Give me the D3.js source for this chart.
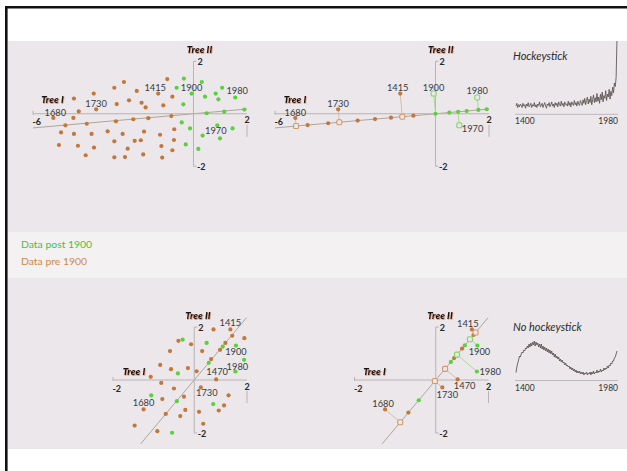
<!DOCTYPE html>
<html>
<head>
<meta charset="utf-8">
<script src="https://cdn.jsdelivr.net/npm/d3@7"></script>
<style>
  html, body { margin: 0; padding: 0; background: #fff; }
  svg { display: block; font-family: Lato, "DejaVu Sans", sans-serif; }
</style>
</head>
<body>
<svg id="chart" width="627" height="471"></svg>
<script>
// ---- Scores on the two tree axes, early period data set (Tree I, Tree II) ----
const topPre = [
  [-2.60, 1.21], [-2.96, 0.99], [-0.98, 1.32], [-2.12, 0.87], [-0.79, 0.65],
  [-3.73, 0.77], [-4.47, 0.58], [-2.41, 0.51], [-2.87, 0.37], [-1.94, 0.42],
  [-1.79, 0.24], [-1.13, 0.32], [-4.29, 0.09], [-4.49, -0.16], [-4.79, -0.44],
  [-3.99, -0.38], [-2.90, -0.29], [-2.25, -0.21], [-1.69, -0.17], [-0.83, -0.09],
  [-4.95, -0.71], [-4.47, -0.77], [-3.81, -0.77], [-3.21, -0.67], [-2.65, -0.77],
  [-1.85, -0.68], [-1.25, -0.80], [-0.72, -0.59], [-5.03, -1.19], [-4.32, -1.22],
  [-3.72, -1.29], [-2.96, -1.05], [-2.20, -1.03], [-1.97, -1.01], [-2.46, -1.33],
  [-1.20, -1.23], [-0.73, -1.00], [-0.79, -1.39], [-4.03, -1.58], [-2.96, -1.66],
  [-2.56, -1.65], [-1.88, -1.55], [-1.17, -1.67]
];
const topPost = [
  [-0.36, 1.34], [0.31, 1.21], [-0.63, 0.99], [0.83, 0.77], [1.07, 0.99],
  [0.43, 0.65], [0.93, 0.55], [-0.38, 0.36], [1.15, 0.08], [0.49, 0.02],
  [1.90, 0.16], [-0.44, -0.33], [-0.13, -0.56], [1.46, -0.56], [0.34, -0.83],
  [0.99, -0.94], [-0.29, -1.17], [0.18, -1.34]
];
const topMarked = [
  { year: "1680", x: -5.24, y: -0.16, group: "pre" },
  { year: "1730", x: -3.64, y: 0.17, group: "pre" },
  { year: "1415", x: -1.32, y: 0.77, group: "pre" },
  { year: "1900", x: -0.07, y: 0.77, group: "post" },
  { year: "1980", x: 1.56, y: 0.62, group: "post" },
  { year: "1970", x: 0.89, y: -0.44, group: "post" }
];
// first component: slope in the Tree I / Tree II plane, drawn between two Tree I values
const topComponent = { slope: 0.09, from: -6, to: 2 };
// further scores along the component
const topAlongPre = [-4.80, -4.03, -2.92, -2.27, -1.67, -0.83];
const topAlongPost = [0.52, 1.17, 1.92];

// ---- Scores, second data set ----
const bottomPre = [
  [0.73, 1.91], [1.44, 1.67], [1.90, 1.58], [1.18, 1.40], [-0.60, 1.48],
  [-0.12, 1.35], [0.98, 1.14], [-0.92, 1.09], [0.30, 1.09], [0.64, 0.79],
  [-1.29, 0.57], [-0.88, 0.41], [-0.24, 0.45], [0.09, 0.33], [-1.65, 0.12],
  [-1.25, -0.11], [-0.77, -0.32], [-1.21, -0.72], [-0.39, -0.63], [1.30, -0.58],
  [-0.34, -1.13], [1.13, -0.96], [0.93, -1.15], [-1.08, -1.28], [-0.53, -1.36],
  [0.18, -1.20], [-2.26, -1.72], [-1.40, -1.93], [0.34, -1.65]
];
const bottomPost = [
  [-0.44, 1.52], [0.47, 1.40], [1.08, 1.26], [1.89, 0.76], [0.55, 0.65],
  [-0.62, 0.25], [-1.63, -0.58], [-0.66, -0.80], [0.72, -0.91], [-0.84, -1.99]
];
const bottomMarked = [
  { year: "1415", x: 1.37, y: 1.91, group: "pre" },
  { year: "1900", x: 1.58, y: 1.30, group: "post" },
  { year: "1980", x: 1.56, y: 0.32, group: "post" },
  { year: "1470", x: 0.83, y: 0.02, group: "pre" },
  { year: "1730", x: 0.25, y: -0.28, group: "pre" },
  { year: "1680", x: -1.92, y: -1.11, group: "pre" }
];
const bottomComponent = { slope: 1.186, from: -2.03, to: 1.98 };
const bottomAlongPre = [2.22, 1.55, 1.08, -1.61];
const bottomAlongPost = [1.71, 0.89, -1.00];

// ---- Reconstructed temperature series, 1400-1980 every 5 years ----
const yearFirst = 1400, yearStep = 5;
const hockeyValues = [
  -0.3, 0.1, -0.5, -0.1, -0.4, 0.0, -0.2, -0.5, 0.1, -0.3,
  -0.1, -0.6, 0.0, -0.3, 0.2, -0.4, -0.2, 0.1, -0.5, -0.1,
  -0.3, 0.2, -0.4, -0.1, -0.5, 0.0, -0.2, 0.3, -0.4, -0.2,
  0.1, -0.5, -0.1, 0.2, -0.3, -0.6, 0.0, -0.2, 0.2, -0.4,
  -0.1, 0.3, -0.3, 0.0, -0.5, 0.2, -0.2, 0.1, -0.4, 0.3,
  -0.1, -0.3, 0.4, -0.2, 0.1, -0.4, 0.3, -0.1, 0.0, -0.3,
  0.4, -0.2, 0.2, -0.4, 0.3, 0.0, -0.2, 0.5, -0.1, 0.2,
  -0.3, 0.4, 0.0, -0.2, 0.5, 0.1,
  -0.2, 0.6, 0.1, 0.8, -0.1, 0.5, 1.0, 0.0, 0.7, 0.2,
  1.1, -0.1, 0.6, 1.3, 0.2, 0.9, 0.3, 1.5, 0.4, 1.0,
  0.1, 1.4, 0.6, 1.7, 0.3, 1.2, 0.8, 1.9, 0.5, 1.4,
  1.0, 2.1, 0.7, 1.8, 1.2, 2.4,
  1.6, 3.0, 2.5, 3.8, 9.5
];
const flatValues = [
  0.75, 1.3, 1.7, 2.0, 2.4, 2.3, 2.6, 2.8, 2.7, 3.0,
  2.9, 3.2, 3.1, 3.4, 3.2, 3.6, 3.3, 3.7, 3.4, 3.8,
  3.5, 3.9, 3.4, 3.8, 3.5, 3.7, 3.3, 3.6, 3.2, 3.6,
  3.1, 3.4, 3.0, 3.3, 2.9, 3.2, 2.8, 3.1, 2.7, 3.0,
  2.6, 2.9, 2.5, 2.7, 2.3, 2.6, 2.2, 2.4, 2.1, 2.3,
  1.9, 2.1, 1.8, 2.0, 1.7, 1.8, 1.5, 1.7, 1.4, 1.5,
  1.3, 1.4, 1.1, 1.3, 1.0, 1.2, 0.9, 1.1, 0.8, 1.0,
  0.7, 0.9, 0.7, 0.9, 0.6, 0.8, 0.6, 0.8, 0.5, 0.7,
  0.6, 0.8, 0.5, 0.7, 0.6, 0.8, 0.5, 0.8, 0.6, 0.9,
  0.6, 0.8, 0.7, 1.0, 0.7, 0.9, 0.8, 1.1, 0.8, 1.0,
  0.9, 1.2, 1.0, 1.2, 1.1, 1.4, 1.2, 1.5, 1.4, 1.7,
  1.6, 1.9, 1.9, 2.2, 2.3, 2.6, 2.9
];
const seriesTicks = ["1400", "1980"];
const legendItems = [
  { text: "Data post 1900", group: "post" },
  { text: "Data pre 1900", group: "pre" }
];

// ---------------------------------------------------------------------------
const W = 627, H = 471;
const COL = { pre: "#c4773a", post: "#5bd03c" };
const HOLLOW = { pre: "#d49766", post: "#7ed85f" };
const LINK = { pre: "#d9bea4", post: "#a9dc95" };
const PANEL = "#ebe7ea";

const svg = d3.select("#chart");
const defs = svg.append("defs");
const glow = defs.append("filter").attr("id", "axisGlow")
  .attr("x", "-20%").attr("y", "-40%").attr("width", "140%").attr("height", "180%");
glow.append("feDropShadow").attr("dx", 0.5).attr("dy", 0.7).attr("stdDeviation", 0.45)
  .attr("flood-color", "#c8582a").attr("flood-opacity", 0.75);

// background bands and frame
svg.append("rect").attr("width", W).attr("height", H).attr("fill", "#fff");
svg.append("rect").attr("x", 8).attr("y", 41).attr("width", W - 8).attr("height", 191).attr("fill", PANEL);
svg.append("rect").attr("x", 8).attr("y", 232).attr("width", W - 8).attr("height", 46).attr("fill", "#f3f1f2");
svg.append("rect").attr("x", 8).attr("y", 278).attr("width", W - 8).attr("height", 171).attr("fill", PANEL);
svg.append("path").attr("d", `M6.3,${H}V7.3H${W}`)
  .attr("fill", "none").attr("stroke", "#111").attr("stroke-width", 2.6);

defs.append("clipPath").attr("id", "clipTop")
  .append("rect").attr("x", 8).attr("y", 41).attr("width", W - 8).attr("height", 191);
defs.append("clipPath").attr("id", "clipBottom")
  .append("rect").attr("x", 8).attr("y", 278).attr("width", W - 8).attr("height", 171);

// label placement around a marked point: [dx, dy, anchor]
const place = {
  topLeft:  { "1680": [2, -2, "middle"], "1730": [0, -2, "middle"], "1415": [-3, -3, "middle"],
              "1900": [0, -3, "middle"], "1980": [2, -3, "middle"], "1970": [-1.5, 9, "middle"] },
  topMid:   { "1680": [0, -2, "middle"], "1730": [0, -2, "middle"], "1415": [-2.5, -3, "middle"],
              "1900": [0, -2.6, "middle"], "1980": [0, -3.6, "middle"], "1970": [2.5, 6.5, "start"] },
  botLeft:  { "1415": [0, -3, "middle"], "1900": [0, 9, "middle"], "1980": [2, -2, "middle"],
              "1470": [1, -4, "middle"], "1730": [6, 9, "middle"], "1680": [0, -3, "middle"] },
  botMid:   { "1415": [-4, -2, "middle"], "1900": [2, 9, "middle"], "1980": [2.5, 3, "start"],
              "1470": [7, 10, "middle"], "1730": [5, 11, "middle"], "1680": [-2, -2, "middle"] }
};

function hollow(g, px, py, group) {
  g.append("rect")
    .attr("x", px - 2.5).attr("y", py - 2.5).attr("width", 5).attr("height", 5)
    .attr("rx", 1.4)
    .attr("fill", PANEL).attr("stroke", HOLLOW[group]).attr("stroke-width", 1.1);
}
function dot(g, px, py, group) {
  g.append("circle").attr("cx", px).attr("cy", py).attr("r", 2.1).attr("fill", COL[group]);
}

function biplot(cfg) {
  const g = svg.append("g");
  const x = d3.scaleLinear().domain(cfg.xDomain).range(cfg.xRange);
  const y = d3.scaleLinear().domain([-2, 2]).range(cfg.yRange);
  const x0 = x(0), y0 = y(0);
  const xa = x(cfg.xDomain[0]), xb = x(cfg.xDomain[1]);
  const axisCol = "#b8b3b5";

  // component direction
  const c = cfg.component;
  const ux = 1 / Math.hypot(1, c.slope), uy = c.slope * ux;
  g.append("line")
    .attr("x1", x(c.from)).attr("y1", y(c.from * c.slope))
    .attr("x2", x(c.to)).attr("y2", y(c.to * c.slope))
    .attr("stroke", "#b0a59b").attr("stroke-width", 1);

  // axes
  g.append("line").attr("x1", xa).attr("x2", xb).attr("y1", y0).attr("y2", y0)
    .attr("stroke", axisCol).attr("stroke-width", 1);
  g.append("line").attr("x1", x0).attr("x2", x0).attr("y1", y(2)).attr("y2", y(-2))
    .attr("stroke", axisCol).attr("stroke-width", 1);
  g.append("line").attr("x1", xa).attr("x2", xa).attr("y1", y0 - 3).attr("y2", y0 + 1)
    .attr("stroke", axisCol);
  g.append("line").attr("x1", xb).attr("x2", xb).attr("y1", y0 + 11).attr("y2", y0 + 23)
    .attr("stroke", axisCol);
  g.append("line").attr("x1", x0).attr("x2", x0 + 3).attr("y1", y(2)).attr("y2", y(2))
    .attr("stroke", axisCol);
  g.append("line").attr("x1", x0).attr("x2", x0 + 3).attr("y1", y(-2)).attr("y2", y(-2))
    .attr("stroke", axisCol);

  const endText = (tx, ty, t, anchor) => g.append("text")
    .attr("x", tx).attr("y", ty).attr("text-anchor", anchor)
    .attr("font-size", 9).attr("font-weight", 700).attr("fill", "#2a2a2a").text(t);
  endText(xa - 0.5, y0 + 11.5, cfg.endLabels[0], "start");
  endText(xb, y0 + 9.5, cfg.endLabels[1], "middle");
  endText(x0 + 4, y(2) + 3.5, "2", "start");
  endText(x0 + 3.5, y(-2) + 3.5, "-2", "start");

  g.append("text").attr("x", xa + cfg.treeIdx).attr("y", y0 + cfg.treeIdy)
    .attr("text-anchor", "middle").attr("font-size", 9.8).attr("font-weight", 900)
    .attr("font-style", "italic").attr("fill", "#151515").attr("filter", "url(#axisGlow)")
    .text("Tree I");
  g.append("text").attr("x", x0 + cfg.treeIIdx).attr("y", y(2) - 8.3)
    .attr("text-anchor", "middle").attr("font-size", 9.8).attr("font-weight", 900)
    .attr("font-style", "italic").attr("fill", "#151515").attr("filter", "url(#axisGlow)")
    .text("Tree II");

  const proj = (d) => {
    const t = d.x * ux + d.y * uy;
    return [t * ux, t * uy];
  };

  if (cfg.scatter) {
    cfg.pre.forEach(p => dot(g, x(p[0]), y(p[1]), "pre"));
    cfg.post.forEach(p => dot(g, x(p[0]), y(p[1]), "post"));
    cfg.marked.forEach(d => dot(g, x(d.x), y(d.y), d.group));
  } else {
    cfg.alongPre.forEach(t => dot(g, x(t * ux), y(t * uy), "pre"));
    cfg.alongPost.forEach(t => dot(g, x(t * ux), y(t * uy), "post"));
    cfg.marked.forEach(d => {
      const [qx, qy] = proj(d);
      g.append("line").attr("x1", x(d.x)).attr("y1", y(d.y)).attr("x2", x(qx)).attr("y2", y(qy))
        .attr("stroke", LINK[d.group]).attr("stroke-width", 1);
    });
    cfg.marked.forEach(d => {
      const [qx, qy] = proj(d);
      const filledOriginal = cfg.hollowOriginal.indexOf(d.group) < 0;
      if (filledOriginal) {
        dot(g, x(d.x), y(d.y), d.group);
        hollow(g, x(qx), y(qy), d.group);
      } else {
        hollow(g, x(d.x), y(d.y), d.group);
        dot(g, x(qx), y(qy), d.group);
      }
    });
  }

  cfg.marked.forEach(d => {
    const p = cfg.place[d.year];
    g.append("text").attr("x", x(d.x) + p[0]).attr("y", y(d.y) + p[1])
      .attr("text-anchor", p[2]).attr("font-size", 9.3).attr("fill", "#3a3a3a").text(d.year);
  });
}

biplot({ xDomain: [-6, 2], xRange: [33, 247], yRange: [166.25, 61.25],
  component: topComponent, endLabels: ["-6", "2"], treeIdx: 19.5, treeIdy: -10.5, treeIIdx: 6,
  scatter: true, pre: topPre, post: topPost, marked: topMarked, place: place.topLeft });
biplot({ xDomain: [-6, 2], xRange: [275, 489], yRange: [166.25, 61.25],
  component: topComponent, endLabels: ["-6", "2"], treeIdx: 20, treeIdy: -10.5, treeIIdx: 5.3,
  scatter: false, alongPre: topAlongPre, alongPost: topAlongPost, hollowOriginal: ["post"],
  marked: topMarked, place: place.topMid });
biplot({ xDomain: [-3.08, 2], xRange: [113, 247], yRange: [433, 327],
  component: bottomComponent, endLabels: ["-2", "2"], treeIdx: 21, treeIdy: -5.5, treeIIdx: 3.7,
  scatter: true, pre: bottomPre, post: bottomPost, marked: bottomMarked, place: place.botLeft });
biplot({ xDomain: [-3.08, 2], xRange: [354.5, 488.5], yRange: [433, 327],
  component: bottomComponent, endLabels: ["-2", "2"], treeIdx: 20, treeIdy: -5.5, treeIIdx: 4.3,
  scatter: false, alongPre: bottomAlongPre, alongPost: bottomAlongPost, hollowOriginal: [],
  marked: bottomMarked, place: place.botMid });

// ---- small temperature reconstructions ----
function series(cfg) {
  const g = svg.append("g");
  const years = cfg.values.map((v, i) => yearFirst + i * yearStep);
  const x = d3.scaleLinear().domain([1400, 1980]).range([516, 617]);
  const y = d3.scaleLinear().domain(cfg.yDomain).range(cfg.yRange);
  g.append("line").attr("x1", 515).attr("x2", 618).attr("y1", cfg.axisY).attr("y2", cfg.axisY)
    .attr("stroke", "#bdb8ba").attr("stroke-width", 1);
  g.append("text").attr("x", 515).attr("y", cfg.axisY + 10).attr("font-size", 8.5)
    .attr("fill", "#333").text(seriesTicks[0]);
  g.append("text").attr("x", 618).attr("y", cfg.axisY + 10).attr("font-size", 8.5)
    .attr("text-anchor", "end").attr("fill", "#333").text(seriesTicks[1]);
  g.append("text").attr("x", 513).attr("y", cfg.titleY).attr("font-size", 11)
    .attr("font-style", "italic").attr("fill", "#2c2c2c").text(cfg.title);
  g.append("path")
    .attr("clip-path", cfg.clip)
    .attr("d", d3.line().x((d, i) => x(years[i])).y(d => y(d))(cfg.values))
    .attr("fill", "none").attr("stroke", "#58524e").attr("stroke-width", 0.85)
    .attr("stroke-linejoin", "round");
}
series({ values: hockeyValues, yDomain: [-1, 6], yRange: [111, 62], axisY: 114.3,
  titleY: 59.5, title: "Hockeystick", clip: "url(#clipTop)" });
series({ values: flatValues, yDomain: [0, 4], yRange: [380, 340], axisY: 380.5,
  titleY: 330.5, title: "No hockeystick", clip: "url(#clipBottom)" });

// ---- legend ----
legendItems.forEach((d, i) => {
  svg.append("text").attr("x", 21).attr("y", 248 + i * 17).attr("font-size", 10.4)
    .attr("fill", d.group === "post" ? "#45c23f" : "#c98a4c").text(d.text);
});
</script>
</body>
</html>
